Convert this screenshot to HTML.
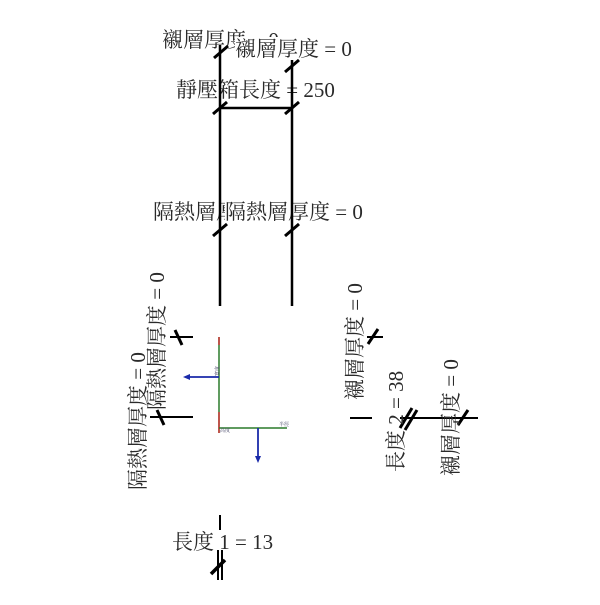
<!DOCTYPE html>
<html><head><meta charset="utf-8"><style>
html,body{margin:0;padding:0;background:#fff;}
svg text{font-family:"Liberation Serif","Noto Serif CJK SC","Noto Sans CJK TC",serif;fill:#2a2a2a;}
</style></head><body>
<svg width="600" height="600" viewBox="0 0 600 600" xmlns="http://www.w3.org/2000/svg">
<text x="162" y="47" font-size="21">襯層厚度 = 0</text>
<rect x="235" y="37" width="120" height="24" fill="#fff"/>
<text x="235" y="56" font-size="21">襯層厚度 = 0</text>
<text x="176" y="97" font-size="21">靜壓箱長度 = 250</text>
<text x="153" y="219" font-size="21">隔熱層厚度 = 0</text>
<rect x="225" y="199" width="140" height="25" fill="#fff"/>
<text x="225" y="219" font-size="21">隔熱層厚度 = 0</text>
<g stroke="#000" stroke-width="2.5" fill="none">
<line x1="220" y1="45" x2="220" y2="306"/>
<line x1="292" y1="60" x2="292" y2="306"/>
<line x1="220" y1="108" x2="292" y2="108"/>
</g>
<g stroke="#000" stroke-width="3">
<line x1="214" y1="58" x2="228" y2="46"/>
<line x1="285" y1="72" x2="299" y2="60"/>
<line x1="213" y1="114" x2="227" y2="102"/>
<line x1="285" y1="114" x2="299" y2="102"/>
<line x1="213" y1="236" x2="227" y2="224"/>
<line x1="285" y1="236" x2="299" y2="224"/>
</g>
<!-- left group -->
<g stroke="#000" stroke-width="2">
<line x1="170" y1="337" x2="193" y2="337"/>
<line x1="150" y1="417" x2="193" y2="417"/>
</g>
<g stroke="#000" stroke-width="3">
<line x1="175" y1="330" x2="182" y2="345"/>
<line x1="157" y1="410" x2="164" y2="425"/>
</g>
<text transform="translate(164,410) rotate(-90)" font-size="21">隔熱層厚度 = 0</text>
<text transform="translate(145,490) rotate(-90)" font-size="21">隔熱層厚度 = 0</text>
<!-- axes -->
<line x1="219" y1="337" x2="219" y2="433" stroke="#2a7a2a" stroke-width="1.5"/>
<line x1="219" y1="337" x2="219" y2="345" stroke="#c33" stroke-width="1.5"/>
<line x1="219" y1="412" x2="219" y2="433" stroke="#c33" stroke-width="1.5"/>
<line x1="219" y1="428" x2="287" y2="428" stroke="#2a7a2a" stroke-width="1.5"/>
<line x1="219" y1="377" x2="188" y2="377" stroke="#1a2aaa" stroke-width="1.8"/>
<polygon points="183,377 190,374 190,380" fill="#1a2aaa"/>
<line x1="258" y1="428" x2="258" y2="458" stroke="#1a2aaa" stroke-width="1.8"/>
<polygon points="258,463 255,456 261,456" fill="#1a2aaa"/>
<text x="219" y="376" font-size="5" transform="rotate(-90 219 376)" style="fill:#446">寬度</text>
<text x="220" y="432" font-size="5" style="fill:#446">高度</text>
<text x="279" y="426" font-size="5" style="fill:#446">半徑</text>
<!-- right group -->
<g stroke="#000" stroke-width="2">
<line x1="350" y1="418" x2="372" y2="418"/>
<line x1="400" y1="418" x2="478" y2="418"/>
<line x1="367" y1="337" x2="383" y2="337"/>
</g>
<g stroke="#000" stroke-width="3">
<line x1="368" y1="344" x2="378" y2="329"/>
<line x1="400" y1="428" x2="412" y2="408"/>
<line x1="405" y1="430" x2="417" y2="410"/>
<line x1="458" y1="425" x2="468" y2="410"/>
</g>
<text transform="translate(362,400) rotate(-90)" font-size="21">襯層厚度 = 0</text>
<text transform="translate(403,472) rotate(-90)" font-size="21">長度 2 = 38</text>
<text transform="translate(458,476) rotate(-90)" font-size="21">襯層厚度 = 0</text>
<!-- bottom -->
<line x1="220" y1="515" x2="220" y2="530" stroke="#000" stroke-width="2"/>
<text x="172" y="549" font-size="21">長度 1 = 13</text>
<g stroke="#000" stroke-width="2">
<line x1="218" y1="550" x2="218" y2="580"/>
<line x1="222" y1="550" x2="222" y2="580"/>
</g>
<line x1="211" y1="574" x2="225" y2="560" stroke="#000" stroke-width="3.5"/>
</svg>
</body></html>
